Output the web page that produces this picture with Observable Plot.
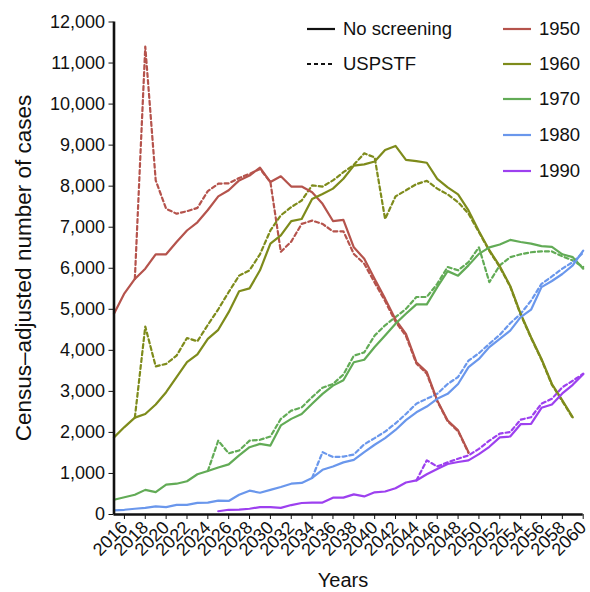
<!DOCTYPE html>
<html>
<head>
<meta charset="utf-8">
<script src="https://cdn.jsdelivr.net/npm/d3@7"></script>
<script src="https://cdn.jsdelivr.net/npm/@observablehq/plot@0.6"></script>
<style>
  html, body { margin: 0; padding: 0; background: #fff; }
  #chart { width: 590px; height: 592px; }
  svg { display: block; }
</style>
</head>
<body>
<div id="chart"></div>
<script>
// ---------- data ----------
const cohorts = ["1950", "1960", "1970", "1980", "1990"];
const cohortColors = ["#b5534c", "#7e8b1b", "#62ab56", "#6a97ec", "#9d40ef"];
const scenarios = ["No screening", "USPSTF"];
const xTicks = [2016, 2018, 2020, 2022, 2024, 2026, 2028, 2030, 2032, 2034, 2036, 2038,
  2040, 2042, 2044, 2046, 2048, 2050, 2052, 2054, 2056, 2058, 2060];
const yTicks = [0, 1000, 2000, 3000, 4000, 5000, 6000, 7000, 8000, 9000, 10000, 11000, 12000];
const xTitle = "Years";
const yTitle = "Census\u2013adjusted number of cases";

// first year of each series
const start1950None = 2015;
const none1950 = [4890, 5390, 5740, 5990, 6340, 6340, 6640, 6920, 7120, 7420, 7750, 7900, 8140, 8260, 8450,
  8100, 8240, 7990, 7990, 7850, 7570, 7150, 7180, 6510, 6230, 5740, 5260, 4750, 4400, 3710, 3470, 2780, 2290, 2050, 1520];
const start1950Usp = 2017;
const usp1950 = [5740, 11400, 8140, 7450, 7330, 7390, 7470, 7880, 8060, 8070, 8200, 8300, 8420, 8100, 6400,
  6650, 7080, 7160, 7080, 6900, 6900, 6350, 6110, 5650, 5200, 4700, 4350, 3680, 3430, 2760, 2270, 2030, 1500];

const start1960None = 2015;
const none1960 = [1880, 2130, 2360, 2450, 2680, 2980, 3350, 3710, 3900, 4280, 4500, 4930, 5440, 5510, 5950,
  6600, 6800, 7150, 7200, 7690, 7810, 7940, 8180, 8500, 8530, 8600, 8880, 8980, 8640, 8610, 8570, 8180, 7970,
  7800, 7410, 6900, 6440, 6050, 5570, 4890, 4320, 3790, 3180, 2780, 2370];
const start1960Usp = 2017;
const usp1960 = [2360, 4580, 3610, 3670, 3870, 4300, 4220, 4620, 5000, 5420, 5820, 5950, 6340, 6920, 7290,
  7490, 7650, 8020, 7990, 8140, 8340, 8520, 8800, 8700, 7200, 7750, 7900, 8050, 8130, 7940, 7800, 7610, 7330,
  6880, 6420, 6030, 5550, 4870, 4300, 3770, 3160, 2760, 2350];

const start1970None = 2015;
const none1970 = [360, 420, 480, 600, 545, 730, 750, 810, 980, 1060, 1145, 1220, 1440, 1640, 1720, 1680, 2170,
  2330, 2450, 2700, 2940, 3140, 3270, 3710, 3770, 4080, 4360, 4650, 4890, 5120, 5120, 5540, 5930, 5820, 6070,
  6350, 6510, 6580, 6690, 6640, 6600, 6540, 6520, 6340, 6270, 5990];
const start1970Usp = 2024;
const usp1970 = [1060, 1800, 1490, 1560, 1800, 1820, 1900, 2330, 2530, 2610, 2860, 3090, 3180, 3410, 3870, 3950,
  4360, 4610, 4810, 5010, 5300, 5300, 5620, 6030, 5950, 6150, 6510, 5660, 6070, 6270, 6340, 6390, 6410, 6410,
  6290, 6190, 6030];

const start1980None = 2015;
const none1980 = [100, 115, 140, 160, 200, 180, 235, 235, 285, 290, 340, 330, 480, 580, 530, 600, 670, 750, 770,
  890, 1090, 1170, 1270, 1330, 1520, 1700, 1860, 2060, 2300, 2490, 2630, 2820, 2940, 3180, 3590, 3790, 4080,
  4280, 4480, 4810, 4990, 5540, 5690, 5860, 6070, 6430];
const start1980Usp = 2034;
const usp1980 = [890, 1520, 1400, 1410, 1460, 1710, 1860, 2020, 2220, 2450, 2700, 2820, 2940, 3180, 3350, 3750,
  3930, 4160, 4380, 4660, 4890, 5210, 5620, 5800, 5990, 6150, 6380];

const start1990None = 2025;
const none1990 = [80, 115, 120, 140, 180, 180, 160, 230, 280, 290, 290, 410, 410, 490, 440, 540, 560, 640, 780,
  830, 980, 1110, 1230, 1280, 1320, 1470, 1650, 1880, 1900, 2200, 2210, 2600, 2680, 2950, 3160, 3420];
const start1990Usp = 2044;
const usp1990 = [830, 1320, 1170, 1270, 1360, 1440, 1600, 1800, 1970, 2010, 2310, 2370, 2700, 2820, 3100, 3260, 3430];

// ---------- tidy table ----------
const seriesList = [
  ["1950", "No screening", start1950None, none1950], ["1950", "USPSTF", start1950Usp, usp1950],
  ["1960", "No screening", start1960None, none1960], ["1960", "USPSTF", start1960Usp, usp1960],
  ["1970", "No screening", start1970None, none1970], ["1970", "USPSTF", start1970Usp, usp1970],
  ["1980", "No screening", start1980None, none1980], ["1980", "USPSTF", start1980Usp, usp1980],
  ["1990", "No screening", start1990None, none1990], ["1990", "USPSTF", start1990Usp, usp1990]
];
const rows = [];
for (const [cohort, scenario, start, vals] of seriesList) {
  vals.forEach((v, i) => rows.push({cohort, scenario, year: start + i, value: v}));
}
const solidRows = rows.filter(d => d.scenario === "No screening");
const dashRows = rows.filter(d => d.scenario === "USPSTF");

const FONT = "'Liberation Sans', Arial, Helvetica, sans-serif";
const W = 590, H = 592;

const chart = Plot.plot({
  width: W, height: H,
  marginLeft: 113.5, marginRight: 7.3, marginTop: 21.5, marginBottom: 78,
  style: {fontFamily: FONT, fontSize: "18px", color: "#111", background: "#fff", overflow: "visible"},
  x: {domain: [2015, 2060]},
  y: {domain: [0, 12000]},
  color: {domain: cohorts, range: cohortColors},
  marks: [
    Plot.line(dashRows, {x: "year", y: "value", z: "cohort", stroke: "cohort", strokeWidth: 2.2,
      strokeDasharray: "4,3", strokeLinejoin: "round"}),
    Plot.line(solidRows, {x: "year", y: "value", z: "cohort", stroke: "cohort", strokeWidth: 2.2,
      strokeLinejoin: "round"}),
    Plot.axisY({ticks: yTicks, tickSize: 5, tickPadding: 4, tickFormat: d3.format(","), label: null}),
    Plot.axisX({ticks: xTicks, tickSize: 5, tickPadding: 5, tickRotate: -45, tickFormat: d => String(d), label: null}),
    Plot.ruleX([2015], {stroke: "#111", strokeWidth: 2.6}),
    Plot.ruleY([0], {stroke: "#111", strokeWidth: 2.6})
  ]
});
document.getElementById("chart").appendChild(chart);

// ---------- titles & legend ----------
const svg = d3.select(chart);
svg.append("text")
  .attr("transform", "translate(30.5,268) rotate(-90)")
  .attr("text-anchor", "middle")
  .attr("font-family", FONT).style("font-size", "22.5px").attr("fill", "#111")
  .text(yTitle);
svg.append("text")
  .attr("x", 343).attr("y", 587)
  .attr("text-anchor", "middle")
  .attr("font-family", FONT).style("font-size", "20px").attr("fill", "#111")
  .text(xTitle);

const leg = svg.append("g").attr("font-family", FONT).style("font-size", "18.5px")
  .attr("fill", "#111").attr("text-anchor", "start");
const rowY = [29, 64, 99, 135, 171];
scenarios.forEach((s, i) => {
  leg.append("line").attr("x1", 307).attr("x2", 335).attr("y1", rowY[i]).attr("y2", rowY[i])
    .attr("stroke", "#111").attr("stroke-width", 2.2)
    .attr("stroke-dasharray", i === 1 ? "4,3" : null);
  leg.append("text").attr("x", 343).attr("y", rowY[i]).attr("dy", "0.35em")
    .attr("text-anchor", "start").style("font-size", "18.5px").text(s);
});
cohorts.forEach((c, i) => {
  leg.append("line").attr("x1", 503).attr("x2", 531).attr("y1", rowY[i]).attr("y2", rowY[i])
    .attr("stroke", cohortColors[i]).attr("stroke-width", 2.2);
  leg.append("text").attr("x", 539).attr("y", rowY[i]).attr("dy", "0.35em")
    .attr("text-anchor", "start").style("font-size", "18.5px").text(c);
});
</script>
</body>
</html>
